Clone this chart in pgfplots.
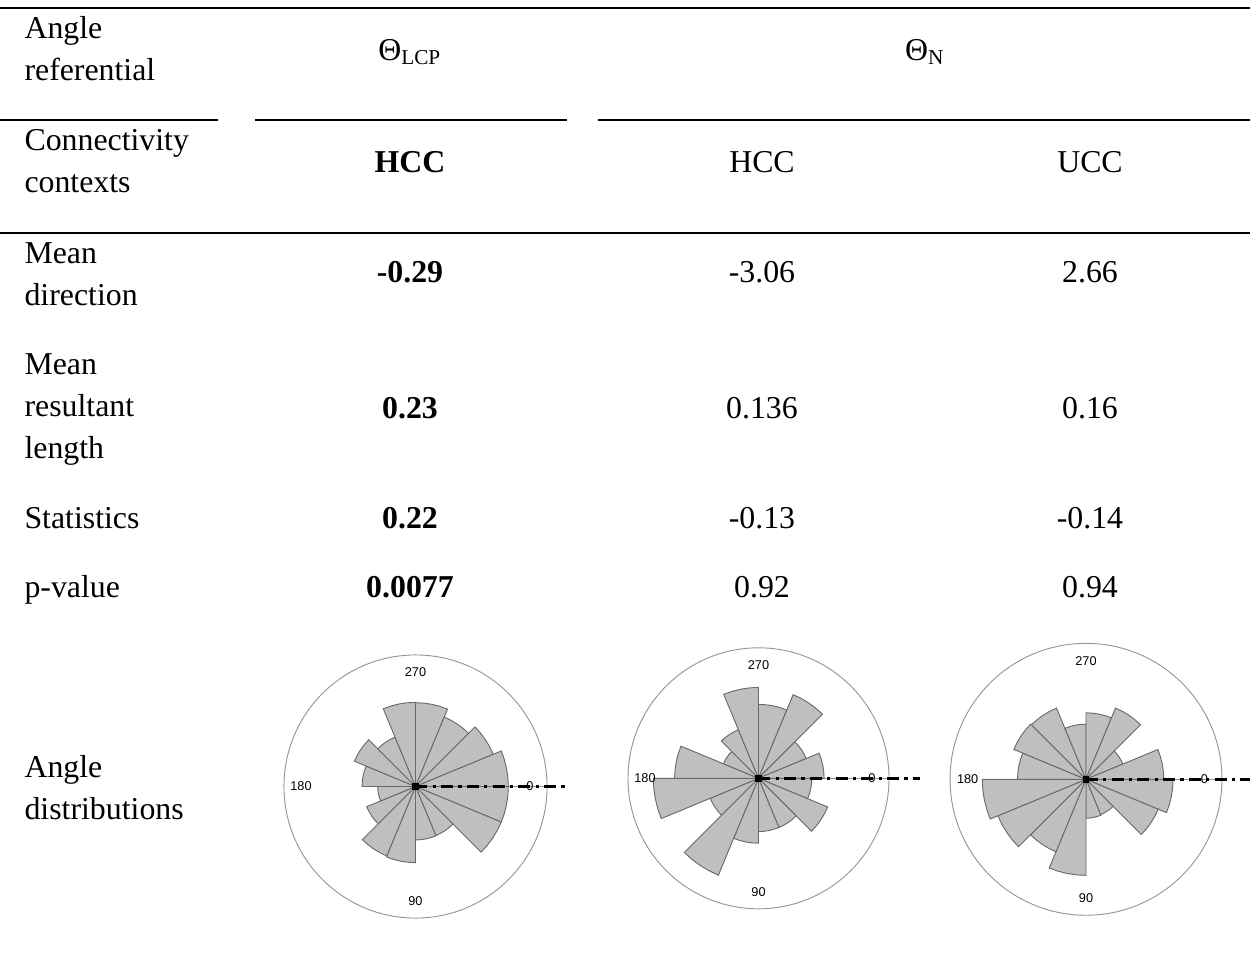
\documentclass[border=0pt]{standalone}
\usepackage{fontspec}
\setmainfont{Liberation Serif}
\newfontfamily\labfont{Liberation Sans}
\usepackage{pgfplots}
\usepgfplotslibrary{polar}
\pgfplotsset{compat=1.18}

\definecolor{petalfill}{RGB}{191,191,191}
\definecolor{petaledge}{RGB}{105,105,105}
\definecolor{ringcol}{RGB}{150,150,150}

% one sector of a rose: #1 = start angle (clockwise from the right, as in the figure), #2 = length
\newcommand\petal[2]{%
  \pgfmathsetmacro\pa{-#1}%
  \pgfmathsetmacro\pb{-#1-5.625}%
  \pgfmathsetmacro\pc{-#1-11.25}%
  \pgfmathsetmacro\pd{-#1-16.875}%
  \pgfmathsetmacro\pe{-#1-22.5}%
  \edef\tmp{\noexpand\addplot[petal] coordinates {(0,0) (\pa,#2) (\pb,#2) (\pc,#2) (\pd,#2) (\pe,#2) (0,0)};}%
  \tmp}

\pgfplotsset{
  petal/.style={fill=petalfill, draw=petaledge, line width=0.35pt, line join=miter},
  rose/.style={
    anchor=center, scale only axis,
    xmin=0, xmax=360, ymin=0,
    xtick=\empty, ytick=\empty, grid=none,
    axis line style={draw=ringcol, line width=0.35pt},
    clip=false,
  },
  meanline/.style={black, line width=0.9pt, dash pattern=on 4.5pt off 2pt on 1.2pt off 2pt},
}
\newcommand\roselabels[1]{%
  \node[font=\labfont\fontsize{4.8}{5}\selectfont] at (axis cs:90,#1) {270};
  \node[font=\labfont\fontsize{4.8}{5}\selectfont] at (axis cs:270,#1) {90};
  \node[font=\labfont\fontsize{4.8}{5}\selectfont] at (axis cs:180,#1) {180};
  \node[font=\labfont\fontsize{4.8}{5}\selectfont] at (axis cs:0,#1) {0};
}

\begin{document}
\begin{tikzpicture}[x=0.377pt, y=-0.377pt]
\useasboundingbox (0,0) rectangle (1250,964);

% rules of the table
\draw[line width=1.1pt] (0,8) -- (1250,8);
\draw[line width=1.1pt] (0,120) -- (218,120);
\draw[line width=1.1pt] (255,120) -- (567,120);
\draw[line width=1.1pt] (598,120) -- (1250,120);
\draw[line width=1.1pt] (0,233) -- (1250,233);

\begin{scope}[every node/.style={font=\fontsize{12}{14}\selectfont, inner sep=0pt}]
% first column
\node[anchor=base west] at (24,38) {Angle};
\node[anchor=base west] at (24,80) {referential};
\node[anchor=base west] at (24,150) {Connectivity};
\node[anchor=base west] at (24,192) {contexts};
\node[anchor=base west] at (24,263) {Mean};
\node[anchor=base west] at (24,305) {direction};
\node[anchor=base west] at (24,374) {Mean};
\node[anchor=base west] at (24,416) {resultant};
\node[anchor=base west] at (24,458) {length};
\node[anchor=base west] at (24,528) {Statistics};
\node[anchor=base west] at (24,597) {p-value};
\node[anchor=base west] at (24,777) {Angle};
\node[anchor=base west] at (24,819) {distributions};
% headers
\node[anchor=base] at (410,60) {Θ\textsubscript{LCP}};
\node[anchor=base] at (925,60) {Θ\textsubscript{N}};
\node[anchor=base] at (410,172) {\bfseries HCC};
\node[anchor=base] at (762,172) {HCC};
\node[anchor=base] at (1090,172) {UCC};
% values
\node[anchor=base] at (410,282) {\bfseries -0.29};
\node[anchor=base] at (762,282) {-3.06};
\node[anchor=base] at (1090,282) {2.66};
\node[anchor=base] at (410,418) {\bfseries 0.23};
\node[anchor=base] at (762,418) {0.136};
\node[anchor=base] at (1090,418) {0.16};
\node[anchor=base] at (410,528) {\bfseries 0.22};
\node[anchor=base] at (762,528) {-0.13};
\node[anchor=base] at (1090,528) {-0.14};
\node[anchor=base] at (410,597) {\bfseries 0.0077};
\node[anchor=base] at (762,597) {0.92};
\node[anchor=base] at (1090,597) {0.94};
\end{scope}

\coordinate (r1) at (415.5,786.5);
\coordinate (r2) at (758.5,778.3);
\coordinate (r3) at (1086,779.3);

% rose 1: Theta_LCP, HCC
\begin{polaraxis}[rose, at={(r1)}, width=99.2pt, height=99.2pt, ymax=394]
\petal{0}{278}
\petal{22.5}{278}
\petal{45}{159}
\petal{67.5}{160}
\petal{90}{228}
\petal{112.5}{225}
\petal{135}{158}
\petal{157.5}{113}
\petal{180}{160}
\petal{202.5}{198}
\petal{225}{160}
\petal{247.5}{252}
\petal{270}{251}
\petal{292.5}{225}
\petal{315}{252}
\petal{337.5}{278}
\addplot[meanline] coordinates {(0,0) (0,453)};
\addplot[only marks, mark=square*, mark size=1.1pt, black] coordinates {(0,0)};
\roselabels{343}
\end{polaraxis}

% rose 2: Theta_N, HCC
\begin{polaraxis}[rose, at={(r2)}, width=98.4pt, height=98.4pt, ymax=392]
\petal{0}{160}
\petal{22.5}{225}
\petal{45}{160}
\petal{67.5}{160}
\petal{90}{195}
\petal{112.5}{315}
\petal{135}{157}
\petal{157.5}{316}
\petal{180}{252}
\petal{202.5}{114}
\petal{225}{158}
\petal{247.5}{273}
\petal{270}{222}
\petal{292.5}{272}
\petal{315}{155}
\petal{337.5}{197}
\addplot[meanline] coordinates {(0,0) (0,486)};
\addplot[only marks, mark=square*, mark size=1.1pt, black] coordinates {(0,0)};
\roselabels{341}
\end{polaraxis}

% rose 3: Theta_N, UCC
\begin{polaraxis}[rose, at={(r3)}, width=102.5pt, height=102.5pt, ymax=409]
\petal{0}{262}
\petal{22.5}{235}
\petal{45}{115}
\petal{67.5}{117}
\petal{90}{289}
\petal{112.5}{236}
\petal{135}{287}
\petal{157.5}{312}
\petal{180}{206}
\petal{202.5}{235}
\petal{225}{232}
\petal{247.5}{166}
\petal{270}{200}
\petal{292.5}{232}
\petal{315}{120}
\petal{337.5}{234}
\addplot[meanline] coordinates {(0,0) (0,540)};
\addplot[only marks, mark=square*, mark size=1.1pt, black] coordinates {(0,0)};
\roselabels{356}
\end{polaraxis}
\end{tikzpicture}
\end{document}
